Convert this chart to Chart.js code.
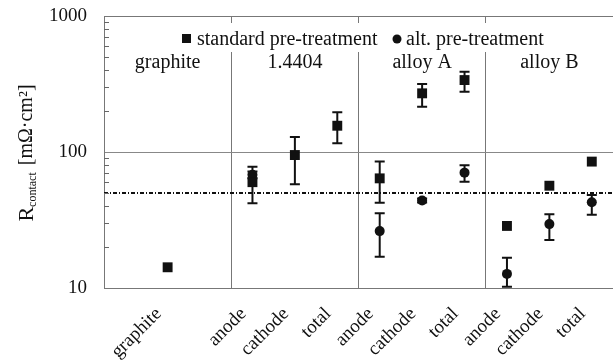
<!DOCTYPE html>
<html>
<head>
<meta charset="utf-8">
<script src="https://cdn.jsdelivr.net/npm/chart.js@4/dist/chart.umd.min.js"></script>
<style>
  html, body { margin: 0; padding: 0; background: #fff; }
  #wrap { width: 613px; height: 363px; }
</style>
</head>
<body>
<div id="wrap"><canvas id="chart" width="613" height="363"></canvas></div>
<script>
// slots: graphite sits in the first 3-wide section, the alloys get one slot per electrode
const categories = ['', 'graphite', '', 'anode', 'cathode', 'total', 'anode', 'cathode', 'total', 'anode', 'cathode', 'total'];
const groupNames = ['graphite', '1.4404', 'alloy A', 'alloy B'];
const groupSlots = [1, 4, 7, 10];
const dividerSlots = [3, 6, 9];

const standard     = [null, 14.2, null, 60, 95, 156, 64, 270, 338, 28.6, 56.5, 85];
const standardLow  = [null, null, null, 42, 58, 116, 42.4, 215, 277, null, null, null];
const standardHigh = [null, null, null, 78, 129, 196, 85, 316, 389, null, null, null];

const alt     = [null, null, null, 68, null, null, 26.2, 44, 70.5, 12.7, 29.5, 42.7];
const altLow  = [null, null, null, 64, null, null, 17, 42.5, 60.5, 10.2, 22.5, 34.6];
const altHigh = [null, null, null, 72, null, null, 35.4, 45.5, 80, 16.7, 34.8, 48.3];

const referenceLevel = 50;
const yTicks = [10, 100, 1000];

const SERIF = '"Liberation Serif", "DejaVu Serif", serif';
const INK = '#111';

const errorBars = {
  id: 'errorBars',
  beforeDatasetsDraw(chart) {
    const ctx = chart.ctx, y = chart.scales.y;
    const sets = [[standardLow, standardHigh], [altLow, altHigh]];
    ctx.save();
    ctx.strokeStyle = INK;
    ctx.lineWidth = 2;
    sets.forEach(([lo, hi], d) => {
      const meta = chart.getDatasetMeta(d);
      meta.data.forEach((pt, i) => {
        if (lo[i] == null || hi[i] == null) return;
        const x = pt.x, y1 = y.getPixelForValue(lo[i]), y2 = y.getPixelForValue(hi[i]);
        ctx.beginPath();
        ctx.moveTo(x, y1); ctx.lineTo(x, y2);
        ctx.moveTo(x - 5, y1); ctx.lineTo(x + 5, y1);
        ctx.moveTo(x - 5, y2); ctx.lineTo(x + 5, y2);
        ctx.stroke();
      });
    });
    // dotted reference line
    const ry = y.getPixelForValue(referenceLevel);
    const a = chart.chartArea;
    ctx.lineWidth = 2;
    ctx.setLineDash([4, 2, 1, 2]);
    ctx.beginPath();
    ctx.moveTo(a.left, ry); ctx.lineTo(a.right, ry);
    ctx.stroke();
    ctx.restore();
  }
};

const decorations = {
  id: 'decorations',
  afterDraw(chart) {
    const ctx = chart.ctx, a = chart.chartArea, x = chart.scales.x, y = chart.scales.y;
    ctx.save();

    // top border
    ctx.strokeStyle = '#777';
    ctx.lineWidth = 1;
    ctx.beginPath();
    ctx.moveTo(a.left, a.top + 0.5); ctx.lineTo(a.right, a.top + 0.5);
    ctx.stroke();

    // minor log ticks on the inside of the y axis
    ctx.strokeStyle = '#666';
    ctx.beginPath();
    [10, 100].forEach(dec => {
      for (let k = 2; k <= 9; k++) {
        const py = Math.round(y.getPixelForValue(k * dec)) + 0.5;
        ctx.moveTo(a.left, py); ctx.lineTo(a.left + 5, py);
      }
    });
    ctx.stroke();

    // legend box (hides the dividers behind it)
    ctx.fillStyle = '#fff';
    ctx.fillRect(175, a.top + 7, 385, 29);
    ctx.fillStyle = INK;
    ctx.font = '20px ' + SERIF;
    ctx.textBaseline = 'middle';
    ctx.textAlign = 'left';
    const ly = a.top + 23;
    ctx.fillRect(182, ly - 5, 9, 9);
    ctx.fillText('standard pre-treatment', 197, ly + 1);
    ctx.beginPath();
    ctx.arc(397, ly, 4.5, 0, Math.PI * 2);
    ctx.fill();
    ctx.fillText('alt. pre-treatment', 406, ly + 1);

    // group names
    ctx.textAlign = 'center';
    groupNames.forEach((g, i) => {
      ctx.fillText(g, x.getPixelForValue(groupSlots[i]), a.top + 47);
    });

    // y axis title: R_contact [mΩ·cm²]
    ctx.translate(33, 153);
    ctx.rotate(-Math.PI / 2);
    ctx.textAlign = 'left';
    ctx.textBaseline = 'alphabetic';
    const big = '22px ' + SERIF, sub = '12px ' + SERIF, unit = '20px ' + SERIF;
    ctx.font = big; const wR = ctx.measureText('R').width;
    ctx.font = sub; const wS = ctx.measureText('contact').width;
    ctx.font = unit; const wU = ctx.measureText('[mΩ·cm²]').width;
    const gap = 7;
    let tx = -(wR + wS + gap + wU) / 2;
    ctx.font = big; ctx.fillText('R', tx, 0); tx += wR;
    ctx.font = sub; ctx.fillText('contact', tx, 3); tx += wS + gap;
    ctx.font = unit; ctx.fillText('[mΩ·cm²]', tx, -1);

    ctx.restore();
  }
};

new Chart(document.getElementById('chart'), {
  type: 'line',
  data: {
    labels: categories,
    datasets: [
      {
        label: 'standard pre-treatment',
        data: standard,
        showLine: false,
        pointStyle: 'rect',
        pointRadius: 7,
        pointHoverRadius: 7,
        backgroundColor: INK,
        borderColor: INK,
        borderWidth: 0
      },
      {
        label: 'alt. pre-treatment',
        data: alt,
        showLine: false,
        pointStyle: 'circle',
        pointRadius: 5,
        pointHoverRadius: 5,
        backgroundColor: INK,
        borderColor: INK,
        borderWidth: 0
      }
    ]
  },
  options: {
    responsive: false,
    animation: false,
    layout: { autoPadding: false, padding: { top: 16, right: 0, left: 0, bottom: 0 } },
    plugins: {
      legend: { display: false },
      tooltip: { enabled: false }
    },
    scales: {
      x: {
        type: 'category',
        offset: true,
        afterFit(scale) {
          scale.height = 75;
          scale.paddingLeft = 0;
          scale.paddingRight = 0;
        },
        grid: {
          offset: true,
          drawTicks: false,
          color: c => dividerSlots.includes(c.index) ? '#777' : 'rgba(0,0,0,0)',
          lineWidth: 1
        },
        border: { display: true, color: '#777' },
        ticks: {
          autoSkip: false,
          minRotation: 45,
          maxRotation: 45,
          padding: 15,
          labelOffset: -9,
          color: INK,
          font: { family: SERIF, size: 19 }
        }
      },
      y: {
        type: 'logarithmic',
        min: 10,
        max: 1000,
        afterFit(scale) {
          scale.width = 104;
          scale.paddingTop = 0;
          scale.paddingBottom = 0;
        },
        afterBuildTicks(scale) { scale.ticks = yTicks.map(v => ({ value: v })); },
        grid: { color: '#888', lineWidth: 1, drawTicks: false },
        border: { display: true, color: '#777' },
        ticks: {
          padding: 17,
          color: INK,
          font: { family: SERIF, size: 19 },
          callback: v => String(v)
        }
      }
    }
  },
  plugins: [errorBars, decorations]
});
</script>
</body>
</html>
